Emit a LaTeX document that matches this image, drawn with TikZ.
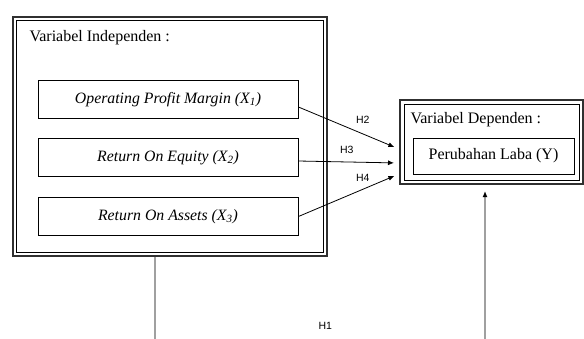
\documentclass[tikz,border=0pt]{standalone}
\usepackage{fontspec}
\setmainfont{Liberation Serif}
\newfontfamily\hypfont{Liberation Sans}
\usetikzlibrary{positioning,calc,arrows.meta}
\definecolor{FrameGray}{HTML}{303030}
\definecolor{LinkGray}{HTML}{A0A0A0}

\begin{document}
\begin{tikzpicture}[x=1pt, y=-1pt, font=\fontsize{16}{19}\selectfont,
  varbox/.style={draw, line width=0.9pt, minimum width=260pt, minimum height=38pt, inner sep=0pt, font=\fontsize{15.8}{19}\selectfont\itshape},
  hyp/.style={-{Latex[length=6pt,width=5pt]}, line width=0.8pt, shorten >=5pt},
  hlabel/.style={font=\hypfont\fontsize{10.5}{12}\selectfont, inner sep=1pt}]
  \useasboundingbox (0,0) rectangle (584,338);
  % independent variables
  \node[draw=FrameGray, line width=2.5pt, minimum width=314pt, minimum height=239pt] (indep) at (170,136.5) {};
  \node[draw, line width=0.7pt, minimum width=307pt, minimum height=232pt] (indepin) at (indep) {};
  \node[anchor=west] (indeptitle) at (26,38) {Variabel Independen :};
  \node[varbox] (opm) at (168,99.5) {Operating Profit Margin (X\textsubscript{1})};
  \node[varbox] (roe) at (168,157.5) {Return On Equity (X\textsubscript{2})};
  \node[varbox] (roa) at (168,216.5) {Return On Assets (X\textsubscript{3})};
  % dependent variable
  \node[draw=FrameGray, line width=2pt, minimum width=183pt, minimum height=84pt] (dep) at (491.5,142) {};
  \node[draw, line width=0.7pt, minimum width=175pt, minimum height=76pt] (depin) at (dep) {};
  \node[anchor=west] (deptitle) at (407,120) {Variabel Dependen :};
  \node[draw, line width=0.9pt, minimum width=161pt, minimum height=36pt] (laba) at (493.5,156) {Perubahan Laba (Y)};
  % hypotheses
  \draw[hyp] ($(opm.east)+(0,7.5)$) -- ($(dep.west)+(0,7)$) node[hlabel, pos=0.64, above=9pt] {H2};
  \draw[hyp] ($(roe.east)+(0,3.5)$) -- ($(dep.west)+(0,21)$) node[hlabel, pos=0.48, above=7pt] {H3};
  \draw[hyp] (roa.east) -- ($(dep.west)+(0,32)$) node[hlabel, pos=0.64, above=6pt] {H4};
  \draw[-{Latex[length=6pt,width=5pt,color=black]}, LinkGray, line width=1.2pt, shorten >=6pt]
    ($(indep.south)+(-15,0)$) -- ++(0,86) -| ($(dep.south)+(-6.5,0)$)
    node[hlabel, text=black, pos=0.258, above=12pt] {H1};
\end{tikzpicture}
\end{document}
